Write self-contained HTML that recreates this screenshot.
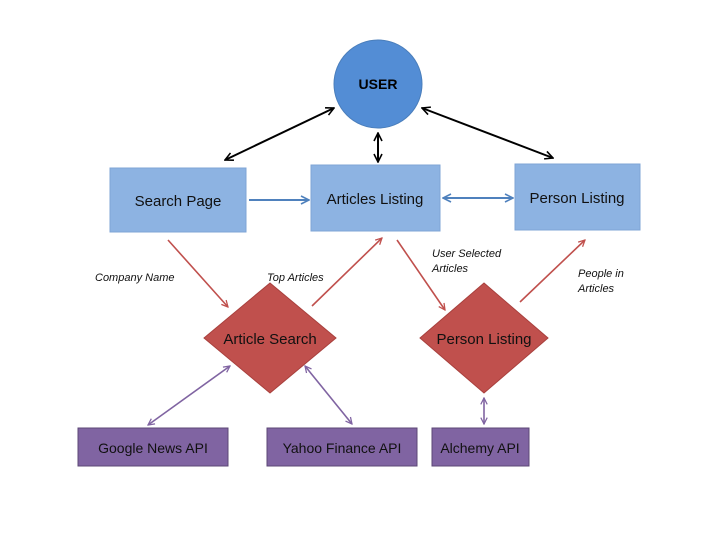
<!DOCTYPE html>
<html><head><meta charset="utf-8"><style>
body{margin:0;background:#fff}
svg text{font-family:"Liberation Sans",sans-serif}
</style></head><body>
<svg width="720" height="540" viewBox="0 0 720 540" xmlns="http://www.w3.org/2000/svg">
<defs>
<marker id="k" viewBox="0 0 10 10" refX="9" refY="5" markerWidth="5" markerHeight="5" orient="auto-start-reverse"><path d="M1,1 L9,5 L1,9" fill="none" stroke="#000" stroke-width="1.6"/></marker>
<marker id="b" viewBox="0 0 10 10" refX="9" refY="5" markerWidth="5" markerHeight="5" orient="auto-start-reverse"><path d="M1,1 L9,5 L1,9" fill="none" stroke="#4f81bd" stroke-width="1.6"/></marker>
<marker id="r" viewBox="0 0 10 10" refX="9" refY="5" markerWidth="5" markerHeight="5" orient="auto-start-reverse"><path d="M1,1 L9,5 L1,9" fill="none" stroke="#c0504d" stroke-width="1.6"/></marker>
<marker id="p" viewBox="0 0 10 10" refX="9" refY="5" markerWidth="5" markerHeight="5" orient="auto-start-reverse"><path d="M1,1 L9,5 L1,9" fill="none" stroke="#8064a2" stroke-width="1.6"/></marker>
</defs>
<circle cx="378" cy="84" r="44" fill="#538dd5" stroke="#4a7ebb" stroke-width="1"/>
<text x="378" y="89" text-anchor="middle" font-size="14" font-weight="bold">USER</text>
<g fill="#8db3e2" stroke="#7fa5d6">
<rect x="110" y="168" width="136" height="64"/>
<rect x="311" y="165" width="129" height="66"/>
<rect x="515" y="164" width="125" height="66"/>
</g>
<g font-size="15" text-anchor="middle" fill="#111">
<text x="178" y="206">Search Page</text>
<text x="375" y="204">Articles Listing</text>
<text x="577" y="203">Person Listing</text>
</g>
<g fill="#c0504d" stroke="#a8403d">
<polygon points="270,283 336,338 270,393 204,338"/>
<polygon points="484,283 548,338 484,393 420,338"/>
</g>
<g font-size="15" text-anchor="middle" fill="#111">
<text x="270" y="344">Article Search</text>
<text x="484" y="344">Person Listing</text>
</g>
<g fill="#8064a2" stroke="#5c4776">
<rect x="78" y="428" width="150" height="38"/>
<rect x="267" y="428" width="150" height="38"/>
<rect x="432" y="428" width="97" height="38"/>
</g>
<g font-size="14" text-anchor="middle" fill="#111">
<text x="153" y="453">Google News API</text>
<text x="342" y="453">Yahoo Finance API</text>
<text x="480" y="453">Alchemy API</text>
</g>
<g stroke="#000" stroke-width="2" marker-start="url(#k)" marker-end="url(#k)">
<line x1="225" y1="160" x2="334" y2="108"/>
<line x1="378" y1="133" x2="378" y2="162"/>
<line x1="422" y1="108" x2="553" y2="158"/>
</g>
<g stroke="#4f81bd" stroke-width="2">
<line x1="249" y1="200" x2="309" y2="200" marker-end="url(#b)"/>
<line x1="443" y1="198" x2="513" y2="198" marker-start="url(#b)" marker-end="url(#b)"/>
</g>
<g stroke="#c0504d" stroke-width="1.6" marker-end="url(#r)">
<line x1="168" y1="240" x2="228" y2="307"/>
<line x1="312" y1="306" x2="382" y2="238"/>
<line x1="397" y1="240" x2="445" y2="310"/>
<line x1="520" y1="302" x2="585" y2="240"/>
</g>
<g stroke="#8064a2" stroke-width="1.6" marker-start="url(#p)" marker-end="url(#p)">
<line x1="148" y1="425" x2="230" y2="366"/>
<line x1="305" y1="366" x2="352" y2="424"/>
<line x1="484" y1="398" x2="484" y2="424"/>
</g>
<g font-size="11" font-style="italic" fill="#111">
<text x="95" y="281">Company Name</text>
<text x="267" y="281">Top Articles</text>
<text x="432" y="257">User Selected</text>
<text x="432" y="272">Articles</text>
<text x="578" y="277">People in</text>
<text x="578" y="292">Articles</text>
</g>
</svg>
</body></html>
